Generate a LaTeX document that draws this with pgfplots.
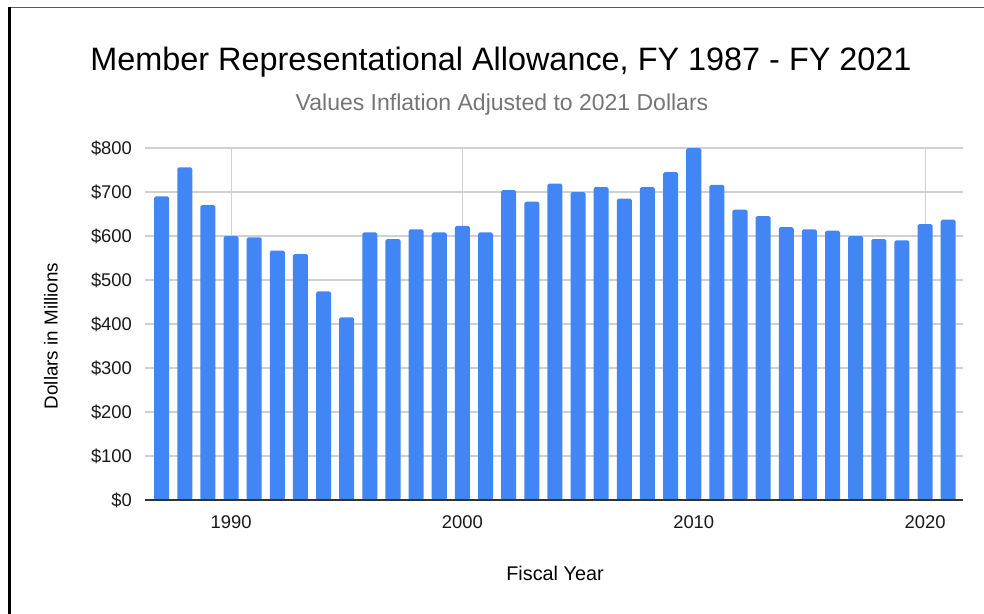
\documentclass[border=0pt]{standalone}
\usepackage{pgfplots}
\pgfplotsset{compat=1.18}
\usepackage{fontspec}
\setmainfont{Liberation Sans}
\definecolor{barblue}{HTML}{4285F4}
\definecolor{gridgray}{HTML}{D0D0D0}
\definecolor{subgray}{HTML}{757575}
\begin{document}
\begin{tikzpicture}
\useasboundingbox (0,0) rectangle (492pt,307pt);
% frame
\draw[color=black!65, line width=0.6pt] (4pt,303.3pt) -- (492pt,303.3pt);
\draw[color=black, line width=1.3pt] (4.6pt,303.6pt) -- (4.6pt,0pt);
% titles
\node[font=\fontsize{16.2}{19}\selectfont, text=black] at (250.5pt,276pt) {Member Representational Allowance, FY 1987 - FY 2021};
\node[font=\fontsize{11.5}{13}\selectfont, text=subgray] at (251pt,254.5pt) {Values Inflation Adjusted to 2021 Dollars};
\node[font=\fontsize{9.4}{11}\selectfont, rotate=90] at (25.5pt,139pt) {Dollars in Millions};
\node[font=\fontsize{9.9}{12}\selectfont] at (277.5pt,20.3pt) {Fiscal Year};
\begin{axis}[
  at={(72.5pt,57pt)}, anchor=south west,
  scale only axis, width=409pt, height=176pt,
  xmin=1986.28, xmax=2021.64, ymin=0, ymax=800,
  axis line style={draw=none},
  major tick length=0pt,
  xtick={1990,2000,2010,2020},
  xticklabels={1990,2000,2010,2020},
  ytick={0,100,...,800},
  yticklabels={\$0,\$100,\$200,\$300,\$400,\$500,\$600,\$700,\$800},
  xmajorgrids, ymajorgrids,
  grid style={color=gridgray, line width=0.55pt},
  ticklabel style={font=\fontsize{9.2}{11}\selectfont, text=black!90},
  yticklabel style={xshift=-3pt},
  xticklabel style={yshift=-4.5pt},
  /pgf/number format/assume math mode=true,
  clip=false,
]
\addplot[ybar, bar width=0.65, fill=barblue, draw=none, rounded corners=0.8pt] coordinates {
(1987,690) (1988,756) (1989,670) (1990,600) (1991,597) (1992,567) (1993,559)
(1994,474) (1995,415) (1996,608) (1997,593) (1998,615) (1999,608) (2000,623)
(2001,608) (2002,704) (2003,678) (2004,719) (2005,700) (2006,711) (2007,685)
(2008,711) (2009,745) (2010,800) (2011,716) (2012,660) (2013,645) (2014,620)
(2015,615) (2016,612) (2017,600) (2018,593) (2019,590) (2020,627) (2021,637)
};
\draw[color=black!80, line width=0.7pt] (rel axis cs:0,0) -- (rel axis cs:1,0);
\end{axis}
\end{tikzpicture}
\end{document}
